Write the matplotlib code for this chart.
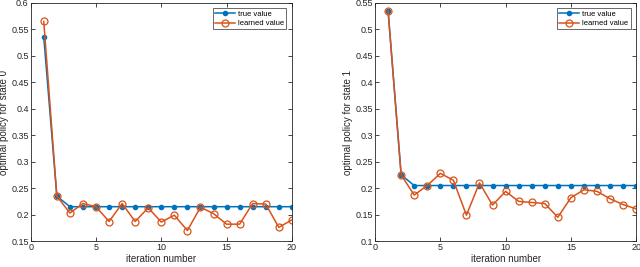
import numpy as np
import matplotlib.pyplot as plt

plt.rcParams['font.family'] = ['Liberation Sans', 'DejaVu Sans']

iterations = np.arange(1, 21)

true_s0 = [0.535, 0.235] + [0.215] * 18
learned_s0 = [0.565, 0.235, 0.203, 0.221, 0.215, 0.187, 0.221, 0.187, 0.213, 0.186,
              0.199, 0.170, 0.214, 0.202, 0.182, 0.182, 0.221, 0.220, 0.176, 0.190]

true_s1 = [0.535, 0.225] + [0.205] * 18
learned_s1 = [0.535, 0.225, 0.187, 0.205, 0.228, 0.215, 0.149, 0.210, 0.168, 0.194,
              0.175, 0.173, 0.171, 0.145, 0.182, 0.197, 0.194, 0.180, 0.169, 0.161]

ylabels = ['optimal policy for state 0', 'optimal policy for state 1']
ylims = [(0.15, 0.6), (0.1, 0.55)]

blue = '#0072BD'
orange = '#D95319'
dark = '#262626'

fig = plt.figure(figsize=(6.4, 2.67), dpi=100)
ax0 = fig.add_axes([0.048, 0.097, 0.408, 0.892])
ax1 = fig.add_axes([0.586, 0.097, 0.408, 0.892])

for ax, t, l, lab, yl in zip([ax0, ax1], [true_s0, true_s1], [learned_s0, learned_s1], ylabels, ylims):
    ax.plot(iterations, t, color=blue, lw=1.1, marker='o', ms=3, label='true value')
    ax.plot(iterations, l, color=orange, lw=1.1, marker='o', ms=5, mfc='none',
            mew=0.9, label='learned value')
    ax.set_xlim(0, 20)
    ax.set_ylim(*yl)
    ax.set_xticks([0, 5, 10, 15, 20])
    ticks = np.arange(yl[0], yl[1] + 0.001, 0.05)
    ax.set_yticks(ticks)
    ax.set_yticklabels([f'{v:.2f}'.rstrip('0').rstrip('.') for v in ticks])
    ax.tick_params(direction='in', length=3, width=0.6, labelsize=6.5, colors=dark,
                   top=True, right=True, pad=1.5)
    for s in ax.spines.values():
        s.set_color(dark)
        s.set_linewidth(0.6)
    ax.set_xlabel('iteration number', fontsize=7, color=dark, labelpad=1)
    ax.set_ylabel(lab, fontsize=7, color=dark, labelpad=1.5)
    leg = ax.legend(loc='upper right', fontsize=5.5, frameon=True, fancybox=False,
                    edgecolor=dark, borderpad=0.3, handlelength=2.6, labelspacing=0.25,
                    handletextpad=0.4, borderaxespad=0.7)
    leg.get_frame().set_linewidth(0.6)

fig.savefig('out.png', dpi=100)
